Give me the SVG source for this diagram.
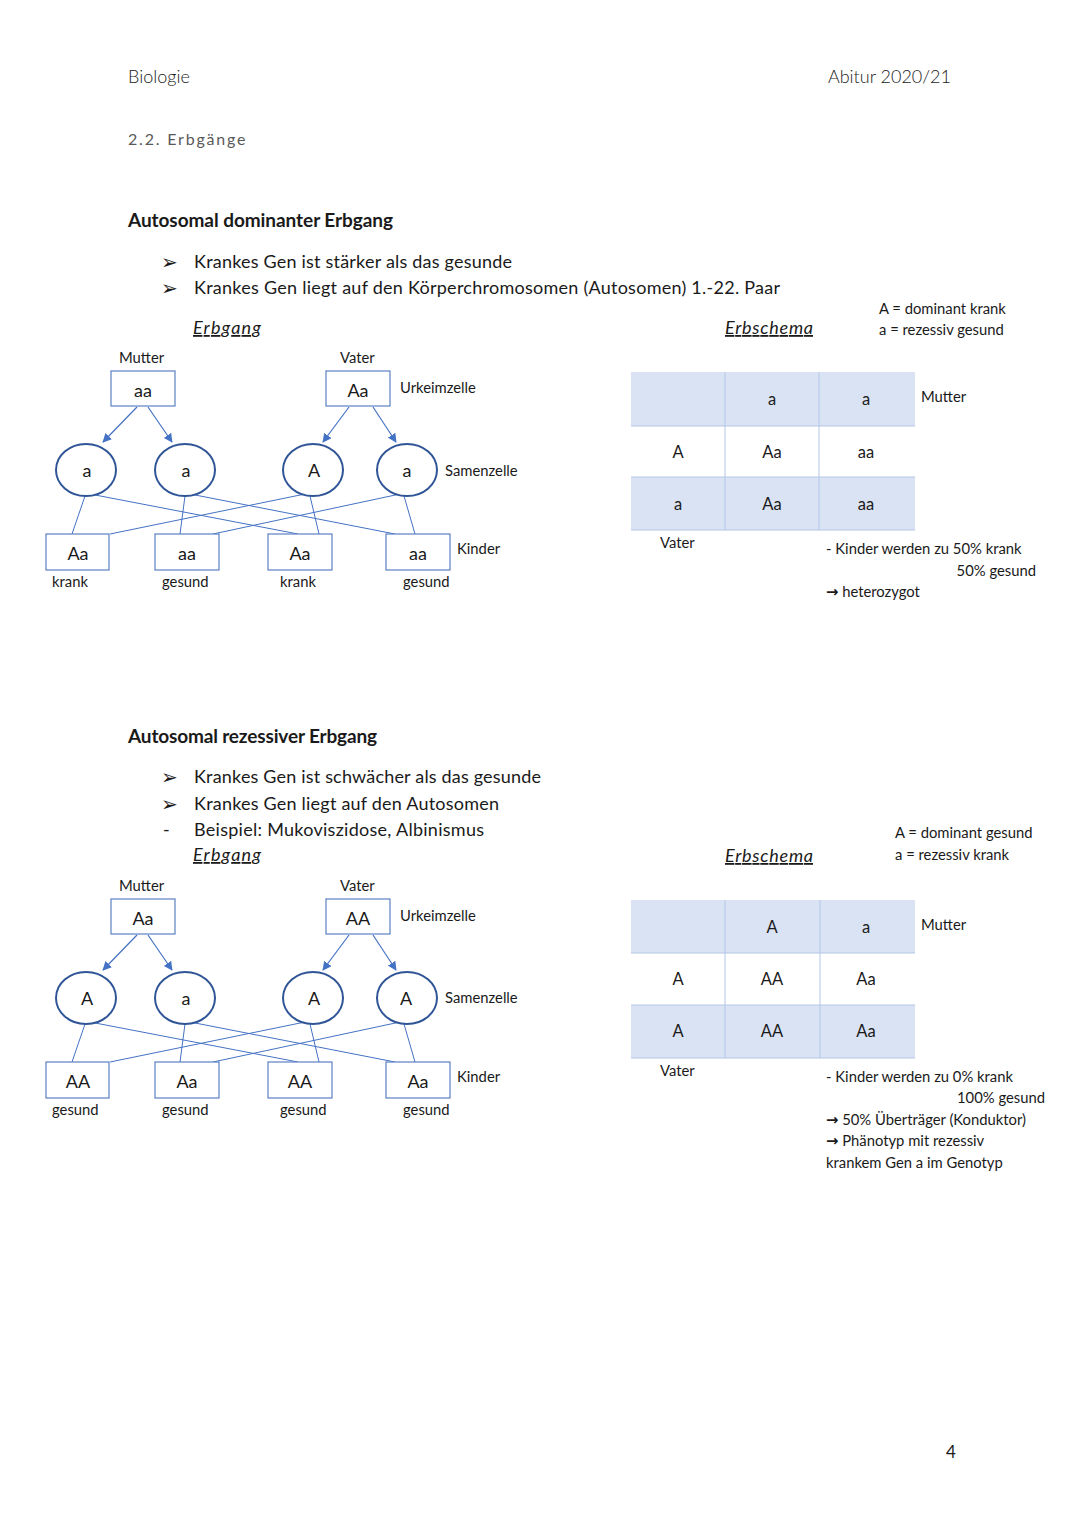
<svg xmlns="http://www.w3.org/2000/svg" width="1080" height="1527" viewBox="0 0 1080 1527">
<defs>
<marker id="ah" viewBox="0 0 10 10" refX="9" refY="5" markerWidth="9" markerHeight="9" markerUnits="userSpaceOnUse" orient="auto">
<path d="M0,0 L10,5 L0,10 z" fill="#4472C4"/>
</marker>
<style>
text{font-family:Lato,"Liberation Sans",sans-serif;fill:#1a1a1a}
.hd{font-size:18px;font-weight:300}
.sec{font-size:16px;fill:#595959;letter-spacing:1.8px}
.h2{font-size:19px;font-weight:bold}
.bl{font-size:18px}
.bu{font-family:"DejaVu Sans",sans-serif;font-size:20px}
.arw{font-family:"DejaVu Sans",sans-serif;font-weight:bold}
.it{font-size:18px;font-style:italic;text-decoration:underline}
.sm{font-size:14.8px}
.bx{font-size:18px;text-anchor:middle}
.tb{font-size:16.5px;text-anchor:middle}
.box{fill:#fff;stroke:#5B80C4;stroke-width:1.2}
.ell{fill:#fff;stroke:#2F5597;stroke-width:2}
.ln{stroke:#4472C4;stroke-width:1;fill:none}
.ar{stroke:#4472C4;stroke-width:1.2;fill:none;marker-end:url(#ah)}
.row{fill:#DAE3F3}
.tl{stroke:#B4C6E7;stroke-width:1}
</style>
</defs>
<rect width="1080" height="1527" fill="#fff"/>

<g id="header">
<text class="hd" x="128" y="83">Biologie</text>
<text class="hd" x="951" y="83" text-anchor="end">Abitur 2020/21</text>
<text class="sec" x="128" y="145">2.2. Erbgänge</text>
<text x="946" y="1458" style="font-size:17px">4</text>
</g>

<!-- Section 1 -->
<g id="sec1-text">
<text class="h2" x="128" y="227" textLength="265">Autosomal dominanter Erbgang</text>
<text class="bu" x="161" y="269">➢</text>
<text class="bl" x="194" y="268" textLength="318">Krankes Gen ist stärker als das gesunde</text>
<text class="bu" x="161" y="295">➢</text>
<text class="bl" x="194" y="294" textLength="586">Krankes Gen liegt auf den Körperchromosomen (Autosomen) 1.-22. Paar</text>
<text class="it" x="193" y="334" textLength="68">Erbgang</text>
<text class="it" x="725" y="334" textLength="88">Erbschema</text>
<text class="sm" x="879" y="314">A = dominant krank</text>
<text class="sm" x="879" y="335">a = rezessiv gesund</text>
<text class="sm" x="119" y="363">Mutter</text>
<text class="sm" x="340" y="363">Vater</text>
<text class="sm" x="400" y="393">Urkeimzelle</text>
<text class="sm" x="445" y="476">Samenzelle</text>
<text class="sm" x="457" y="554">Kinder</text>
<text class="sm" x="52" y="587">krank</text>
<text class="sm" x="162" y="587">gesund</text>
<text class="sm" x="280" y="587">krank</text>
<text class="sm" x="403" y="587">gesund</text>
</g>

<g id="sec1-connectors">
<line class="ar" x1="137" y1="407" x2="103" y2="442"/>
<line class="ar" x1="148" y1="407" x2="172" y2="442"/>
<line class="ar" x1="349" y1="407" x2="323" y2="442"/>
<line class="ar" x1="373" y1="407" x2="396" y2="442"/>
<line class="ln" x1="85" y1="496" x2="72" y2="534"/>
<line class="ln" x1="90" y1="494" x2="298" y2="534"/>
<line class="ln" x1="185" y1="496" x2="180" y2="534"/>
<line class="ln" x1="190" y1="494" x2="395" y2="534"/>
<line class="ln" x1="310" y1="496" x2="319" y2="534"/>
<line class="ln" x1="305" y1="494" x2="110" y2="534"/>
<line class="ln" x1="404" y1="496" x2="415" y2="534"/>
<line class="ln" x1="400" y1="494" x2="213" y2="534"/>
</g>

<g id="s1-mutter"><rect class="box" x="111" y="371" width="64" height="35"/><text class="bx" x="143" y="397">aa</text></g>
<g id="s1-vater"><rect class="box" x="326" y="371" width="64" height="35"/><text class="bx" x="358" y="397">Aa</text></g>
<g id="s1-e1"><ellipse class="ell" cx="86" cy="470" rx="30" ry="26"/><text class="bx" x="87" y="477">a</text></g>
<g id="s1-e2"><ellipse class="ell" cx="185" cy="470" rx="30" ry="26"/><text class="bx" x="186" y="477">a</text></g>
<g id="s1-e3"><ellipse class="ell" cx="313" cy="470" rx="30" ry="26"/><text class="bx" x="314" y="477">A</text></g>
<g id="s1-e4"><ellipse class="ell" cx="407" cy="470" rx="30" ry="26"/><text class="bx" x="407" y="477">a</text></g>
<g id="s1-k1"><rect class="box" x="46" y="534" width="63" height="36"/><text class="bx" x="78" y="560">Aa</text></g>
<g id="s1-k2"><rect class="box" x="155" y="534" width="64" height="36"/><text class="bx" x="187" y="560">aa</text></g>
<g id="s1-k3"><rect class="box" x="268" y="534" width="64" height="36"/><text class="bx" x="300" y="560">Aa</text></g>
<g id="s1-k4"><rect class="box" x="386" y="534" width="64" height="36"/><text class="bx" x="418" y="560">aa</text></g>

<g id="s1-table">
<rect class="row" x="631" y="372" width="284" height="54"/>
<rect class="row" x="631" y="477" width="284" height="53"/>
<line class="tl" x1="725" y1="372" x2="725" y2="530"/>
<line class="tl" x1="819" y1="372" x2="819" y2="530"/>
<line class="tl" x1="631" y1="426" x2="915" y2="426"/>
<line class="tl" x1="631" y1="477" x2="915" y2="477"/>
<line class="tl" x1="631" y1="530" x2="915" y2="530"/>
<text class="tb" x="772" y="405">a</text>
<text class="tb" x="866" y="405">a</text>
<text class="tb" x="678" y="458">A</text>
<text class="tb" x="772" y="458">Aa</text>
<text class="tb" x="866" y="458">aa</text>
<text class="tb" x="678" y="510">a</text>
<text class="tb" x="772" y="510">Aa</text>
<text class="tb" x="866" y="510">aa</text>
<text class="sm" x="921" y="402">Mutter</text>
<text class="sm" x="660" y="548">Vater</text>
<text class="sm" x="826" y="554">- Kinder werden zu 50% krank</text>
<text class="sm" x="1036" y="576" text-anchor="end">50% gesund</text>
<text class="sm" x="826" y="597"><tspan class="arw">→</tspan> heterozygot</text>
</g>

<!-- Section 2 -->
<g id="sec2-text">
<text class="h2" x="128" y="743" textLength="249">Autosomal rezessiver Erbgang</text>
<text class="bu" x="161" y="784">➢</text>
<text class="bl" x="194" y="783" textLength="347">Krankes Gen ist schwächer als das gesunde</text>
<text class="bu" x="161" y="811">➢</text>
<text class="bl" x="194" y="810" textLength="305">Krankes Gen liegt auf den Autosomen</text>
<text class="bl" x="163" y="836">-</text>
<text class="bl" x="194" y="836" textLength="290">Beispiel: Mukoviszidose, Albinismus</text>
<text class="it" x="193" y="861" textLength="68">Erbgang</text>
<text class="it" x="725" y="862" textLength="88">Erbschema</text>
<text class="sm" x="895" y="838">A = dominant gesund</text>
<text class="sm" x="895" y="860">a = rezessiv krank</text>
<text class="sm" x="119" y="891">Mutter</text>
<text class="sm" x="340" y="891">Vater</text>
<text class="sm" x="400" y="921">Urkeimzelle</text>
<text class="sm" x="445" y="1003">Samenzelle</text>
<text class="sm" x="457" y="1082">Kinder</text>
<text class="sm" x="52" y="1115">gesund</text>
<text class="sm" x="162" y="1115">gesund</text>
<text class="sm" x="280" y="1115">gesund</text>
<text class="sm" x="403" y="1115">gesund</text>
</g>

<g id="sec2-connectors">
<line class="ar" x1="137" y1="935" x2="103" y2="970"/>
<line class="ar" x1="148" y1="935" x2="172" y2="970"/>
<line class="ar" x1="349" y1="935" x2="323" y2="970"/>
<line class="ar" x1="373" y1="935" x2="396" y2="970"/>
<line class="ln" x1="85" y1="1024" x2="72" y2="1062"/>
<line class="ln" x1="90" y1="1022" x2="298" y2="1062"/>
<line class="ln" x1="185" y1="1024" x2="180" y2="1062"/>
<line class="ln" x1="190" y1="1022" x2="395" y2="1062"/>
<line class="ln" x1="310" y1="1024" x2="319" y2="1062"/>
<line class="ln" x1="305" y1="1022" x2="110" y2="1062"/>
<line class="ln" x1="404" y1="1024" x2="415" y2="1062"/>
<line class="ln" x1="400" y1="1022" x2="213" y2="1062"/>
</g>

<g id="s2-mutter"><rect class="box" x="111" y="899" width="64" height="35"/><text class="bx" x="143" y="925">Aa</text></g>
<g id="s2-vater"><rect class="box" x="326" y="899" width="64" height="35"/><text class="bx" x="358" y="925">AA</text></g>
<g id="s2-e1"><ellipse class="ell" cx="86" cy="998" rx="30" ry="26"/><text class="bx" x="87" y="1005">A</text></g>
<g id="s2-e2"><ellipse class="ell" cx="185" cy="998" rx="30" ry="26"/><text class="bx" x="186" y="1005">a</text></g>
<g id="s2-e3"><ellipse class="ell" cx="313" cy="998" rx="30" ry="26"/><text class="bx" x="314" y="1005">A</text></g>
<g id="s2-e4"><ellipse class="ell" cx="407" cy="998" rx="30" ry="26"/><text class="bx" x="406" y="1005">A</text></g>
<g id="s2-k1"><rect class="box" x="46" y="1062" width="63" height="36"/><text class="bx" x="78" y="1088">AA</text></g>
<g id="s2-k2"><rect class="box" x="155" y="1062" width="64" height="36"/><text class="bx" x="187" y="1088">Aa</text></g>
<g id="s2-k3"><rect class="box" x="268" y="1062" width="64" height="36"/><text class="bx" x="300" y="1088">AA</text></g>
<g id="s2-k4"><rect class="box" x="386" y="1062" width="64" height="36"/><text class="bx" x="418" y="1088">Aa</text></g>

<g id="s2-table">
<rect class="row" x="631" y="900" width="284" height="53"/>
<rect class="row" x="631" y="1005" width="284" height="53"/>
<line class="tl" x1="725" y1="900" x2="725" y2="1058"/>
<line class="tl" x1="820" y1="900" x2="820" y2="1058"/>
<line class="tl" x1="631" y1="953" x2="915" y2="953"/>
<line class="tl" x1="631" y1="1005" x2="915" y2="1005"/>
<line class="tl" x1="631" y1="1058" x2="915" y2="1058"/>
<text class="tb" x="772" y="933">A</text>
<text class="tb" x="866" y="933">a</text>
<text class="tb" x="678" y="985">A</text>
<text class="tb" x="772" y="985">AA</text>
<text class="tb" x="866" y="985">Aa</text>
<text class="tb" x="678" y="1037">A</text>
<text class="tb" x="772" y="1037">AA</text>
<text class="tb" x="866" y="1037">Aa</text>
<text class="sm" x="921" y="930">Mutter</text>
<text class="sm" x="660" y="1076">Vater</text>
<text class="sm" x="826" y="1082">- Kinder werden zu 0% krank</text>
<text class="sm" x="1045" y="1103" text-anchor="end">100% gesund</text>
<text class="sm" x="826" y="1125"><tspan class="arw">→</tspan> 50% Überträger (Konduktor)</text>
<text class="sm" x="826" y="1146"><tspan class="arw">→</tspan> Phänotyp mit rezessiv</text>
<text class="sm" x="826" y="1168">krankem Gen a im Genotyp</text>
</g>
</svg>
